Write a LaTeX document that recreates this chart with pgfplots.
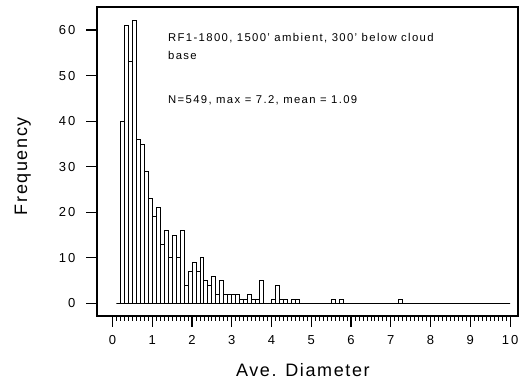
\documentclass[border=0pt]{standalone}
\usepackage{fontspec}
\setmainfont{Liberation Sans}[LetterSpace=12]
\usepackage{pgfplots}
\pgfplotsset{compat=1.18}
\begin{document}
\begin{tikzpicture}
\useasboundingbox (0pt,0pt) rectangle (526pt,379pt);
\begin{axis}[
  at={(97pt,63pt)}, anchor=south west,
  width=421pt, height=309pt, scale only axis,
  xmin=-0.39, xmax=10.2, ymin=-2.74, ymax=65.05,
  xtick={0,1,...,10}, minor x tick num=9,
  ytick={0,10,...,60},
  xtick pos=bottom, ytick pos=left,
  tick align=outside,
  major tick length=11pt, minor tick length=5pt,
  axis line style={line width=1.2pt},
  major tick style={line width=1.1pt, black},
  minor tick style={line width=0.8pt, black},
  /pgf/number format/assume math mode=true,
  ticklabel style={font=\fontsize{13}{15}\selectfont\addfontfeatures{LetterSpace=16}},
  xticklabel style={yshift=-5pt},
  yticklabel style={xshift=-7pt},
  xlabel={Ave. Diameter}, ylabel={Frequency},
  label style={font=\fontsize{18}{21}\selectfont\addfontfeatures{LetterSpace=9}},
  xlabel style={at={(axis description cs:0.489,-0.175)}, anchor=center},
  ylabel style={at={(axis description cs:-0.176,0.485)}, anchor=center},
  clip=false,
]
\addplot[ybar interval, fill=white, draw=black, line width=0.9pt] coordinates {
(0.1,0) (0.2,40) (0.3,61) (0.4,53) (0.5,62) (0.6,36) (0.7,35) (0.8,29) (0.9,23)
(1.0,19) (1.1,21) (1.2,13) (1.3,16) (1.4,10) (1.5,15) (1.6,10) (1.7,16) (1.8,4) (1.9,7)
(2.0,9) (2.1,7) (2.2,10) (2.3,5) (2.4,4) (2.5,6) (2.6,2) (2.7,5) (2.8,2) (2.9,2)
(3.0,2) (3.1,2) (3.2,1) (3.3,1) (3.4,2) (3.5,1) (3.6,1) (3.7,5) (3.8,0) (3.9,0)
(4.0,1) (4.1,4) (4.2,1) (4.3,1) (4.4,0) (4.5,1) (4.6,1) (4.7,0)
(5.5,1) (5.6,0) (5.7,1) (5.8,0) (7.2,1) (7.3,0) (10,0)
};
\node[anchor=north west, inner sep=0pt, align=left, font=\fontsize{11.3}{18}\selectfont]
  at (axis cs:1.396,59.35) {RF1-1800, 1500' ambient, 300' below cloud\\base};
\node[anchor=north west, inner sep=0pt, font=\fontsize{11.3}{18}\selectfont]
  at (axis cs:1.396,45.7) {N=549, max = 7.2, mean = 1.09};
\end{axis}
\end{tikzpicture}
\end{document}
